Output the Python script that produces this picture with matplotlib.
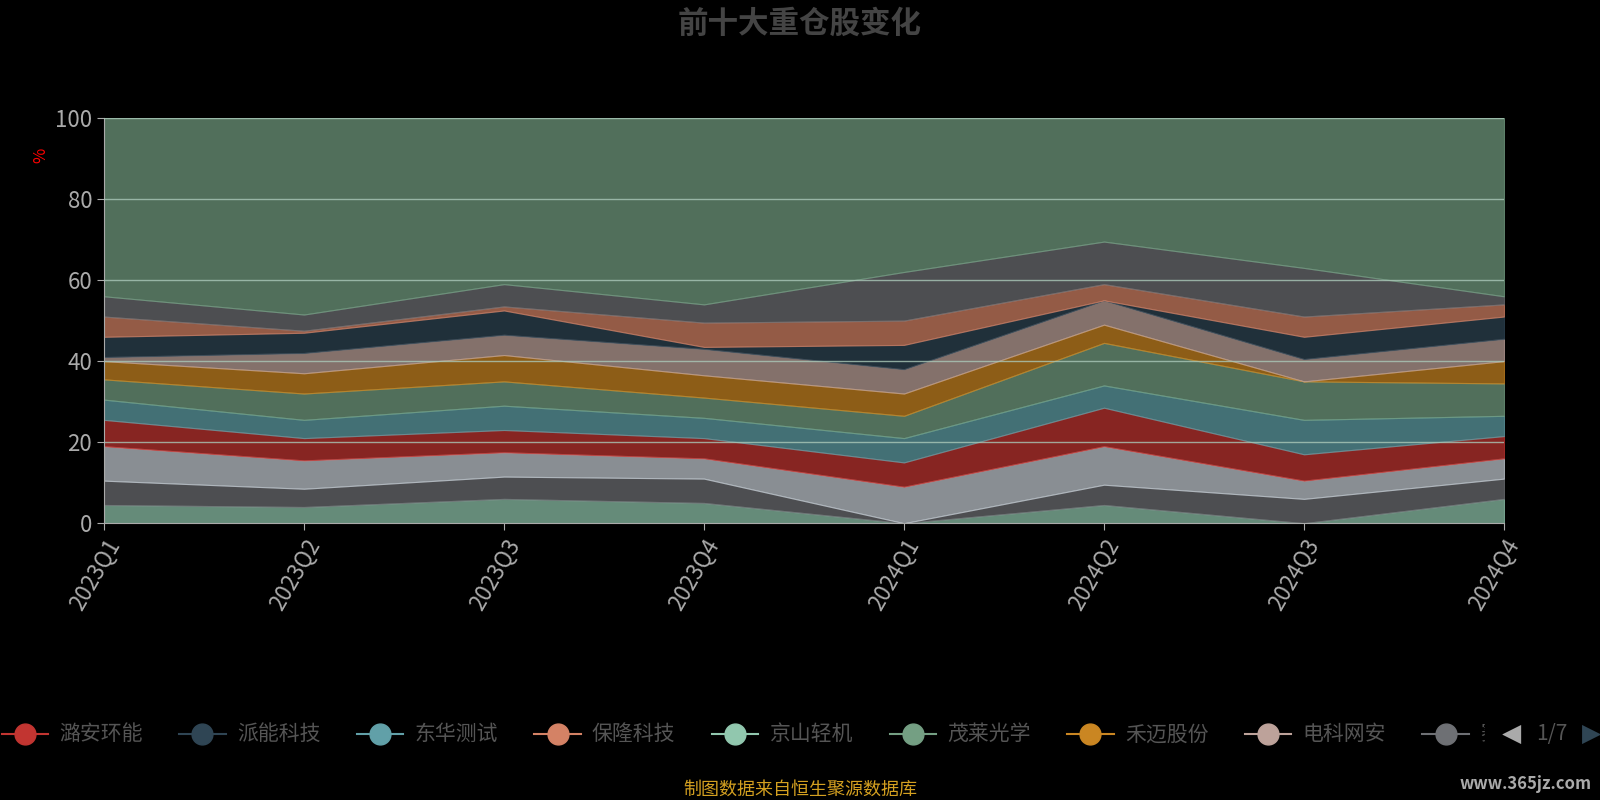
import matplotlib
matplotlib.use("Agg")
import matplotlib.pyplot as plt
import numpy as np

plt.rcParams['font.family'] = ['Noto Sans CJK SC', 'DejaVu Sans']

quarters = ["2023Q1","2023Q2","2023Q3","2023Q4","2024Q1","2024Q2","2024Q3","2024Q4"]
# cumulative boundaries (bottom to top)
bounds = [
    [4.5, 4.0, 6.0, 5.0, 0.0, 4.5, 0.0, 6.0],
    [10.5, 8.5, 11.5, 11.0, 0.0, 9.5, 6.0, 11.0],
    [19.0, 15.5, 17.5, 16.0, 9.0, 19.0, 10.5, 16.0],
    [25.5, 21.0, 23.0, 21.0, 15.0, 28.5, 17.0, 21.5],
    [30.5, 25.5, 29.0, 26.0, 21.0, 34.0, 25.5, 26.5],
    [35.5, 32.0, 35.0, 31.0, 26.5, 44.5, 35.0, 34.5],
    [40.0, 37.0, 41.5, 36.5, 32.0, 49.0, 35.0, 40.0],
    [41.0, 42.0, 46.5, 43.0, 38.0, 55.0, 40.5, 45.5],
    [46.0, 47.0, 52.5, 43.5, 44.0, 55.0, 46.0, 51.0],
    [51.0, 47.5, 53.5, 49.5, 50.0, 59.0, 51.0, 54.0],
    [56.0, 51.5, 59.0, 54.0, 62.0, 69.5, 63.0, 56.0],
    [100, 100, 100, 100, 100, 100, 100, 100],
]
names = ["潞安环能","派能科技","东华测试","保隆科技","京山轻机","茂莱光学","禾迈股份","电科网安","其他1","其他2","其他3","其他"]
colors = ['#c23531','#2f4554','#61a0a8','#d48265','#91c7ae','#749f83','#ca8622','#bda29a','#6e7074','#546570','#c4ccd3','#749f83']
layer_colors = ['#91c7ae','#6e7074','#c4ccd3','#c23531','#61a0a8','#749f83','#ca8622','#bda29a','#2f4554','#d48265','#6e7074','#749f83']

fig = plt.figure(figsize=(16, 8), dpi=100, facecolor='black')
ax = fig.add_axes([0.065, 0.346, 0.875, 0.5065], facecolor='black')
x = np.arange(len(quarters))
prev = np.zeros(len(quarters))
for i, b in enumerate(bounds):
    b = np.array(b, dtype=float)
    ax.fill_between(x, prev, b, color=layer_colors[i], alpha=0.7, linewidth=0.8, edgecolor=layer_colors[i], zorder=2)
    prev = b
for v in [20, 40, 60, 80, 100]:
    ax.axhline(v, color='#aac8b8', lw=1, zorder=3, alpha=0.8)
ax.set_xlim(0, len(quarters)-1)
ax.set_ylim(0, 100)
ax.set_xticks(x)
ax.set_xticklabels(quarters, rotation=60, ha='right', rotation_mode='anchor', color='#555555', fontsize=16)
ax.set_yticks([0, 20, 40, 60, 80, 100])
ax.set_yticklabels(['0','20','40','60','80','100'], color='#555555', fontsize=16)
for s in ['top','right']:
    ax.spines[s].set_visible(False)
ax.spines['left'].set_color('#aaaaaa')
ax.spines['bottom'].set_color('#aaaaaa')
ax.tick_params(colors='#aaaaaa', length=5)
ax.text(-0.045, 0.9, '%', transform=ax.transAxes, color='red', fontsize=12, rotation=90, ha='center')

fig.text(0.5, 0.97, '前十大重仓股变化', ha='center', va='center', fontsize=22, fontweight='bold', color='#444444')

# legend
lx = 0.0
y = 0.082
for i in range(9):
    nm = names[i] if i < 8 else '赛'
    c = colors[i] if i < 8 else '#6e7074'
    fig.lines.append(plt.Line2D([lx+0.001, lx+0.03], [y, y], transform=fig.transFigure, color=c, lw=1.5))
    fig.lines.append(plt.Line2D([lx+0.0155], [y], transform=fig.transFigure, marker='o', ms=15, color=c))
    fig.text(lx+0.037, y, nm, va='center', fontsize=15, color='#555555')
    lx += 0.111
fig.patches.append(plt.Rectangle((0.928, 0.05), 0.01, 0.06, transform=fig.transFigure, color='black', zorder=5))
fig.text(0.945, 0.082, '◀', ha='center', va='center', fontsize=18, color='#aaaaaa', family=['DejaVu Sans'])
fig.text(0.97, 0.082, '1/7', ha='center', va='center', fontsize=15, color='#555555')
fig.text(0.995, 0.082, '▶', ha='center', va='center', fontsize=18, color='#2f4554', family=['DejaVu Sans'])

fig.text(0.5, 0.013, '制图数据来自恒生聚源数据库', ha='center', va='center', fontsize=13, color='#d4a020')
fig.text(0.995, 0.02, 'www.365jz.com', ha='right', va='center', fontsize=12, color='#aaaaaa', fontstyle='italic', fontweight='bold')

fig.savefig('out.png', dpi=100, facecolor='black')
